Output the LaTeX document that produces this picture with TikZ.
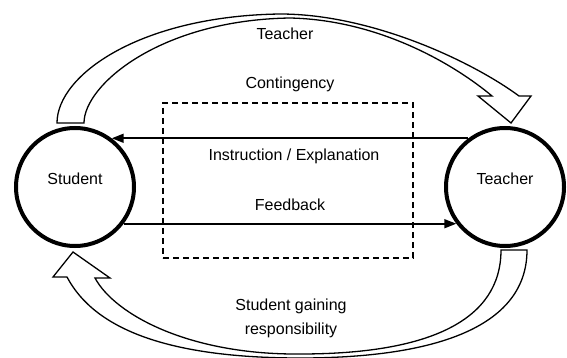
\documentclass[tikz,border=0pt]{standalone}
\usepackage{fontspec}
\setmainfont{Liberation Sans}
\usetikzlibrary{arrows.meta}

\begin{document}
\begin{tikzpicture}[
    x=1pt, y=-1pt,
    every node/.style={font=\fontsize{16}{24}\selectfont},
    party/.style={circle, draw, line width=4pt, fill=white,
        minimum size=118pt, inner sep=0pt, text depth=16pt},
    frame/.style={draw, line width=1.3pt, dash pattern=on 6pt off 4pt},
    link/.style={line width=1.6pt, -{Triangle[length=12pt,width=9pt]}},
    bigarrow/.style={draw, fill=white, line width=1.3pt}
]
\useasboundingbox (0,0) rectangle (567,358);

% =========================
% HOLLOW ARROWS
% =========================
% teacher contingency (over the top)
\draw[bigarrow]
    (57,123) .. controls (57,75) and (140,16) .. (280,14)
             .. controls (370,14) and (470,60) .. (519,96)
    -- (531,96) -- (511,123) -- (478,96) -- (492,96)
             .. controls (455,65) and (380,20) .. (290,18)
             .. controls (160,20) and (84,85) .. (84,123)
    -- cycle;

% student gaining responsibility (under the bottom)
\draw[bigarrow]
    (527,250) .. controls (527,325) and (440,358) .. (300,358)
              .. controls (170,358) and (95,330) .. (67,277)
    -- (53,277) -- (73,252) -- (110,278) -- (95,278)
              .. controls (115,315) and (190,355) .. (300,354)
              .. controls (430,354) and (501,320) .. (501,250)
    -- cycle;

% =========================
% PARTIES
% =========================
\node[party] (student) at (75,187) {Student};
\node[party] (teacher) at (505,187) {Teacher};

% dashed box
\node[frame, minimum width=250pt, minimum height=155pt] (box) at (288,180.5) {};

% =========================
% LINKS
% =========================
\draw[link] (teacher.127) -- (student.53);
\draw[link] (student.-37) -- (teacher.-143);

% labels
\node (contlabel) at (285,34) {Teacher};
\node (contingency) at (290,84) {Contingency};
\node (instruction) at (294,156) {Instruction / Explanation};
\node (feedback) at (290,205) {Feedback};
\node[align=center] (gaining) at (291,318) {Student gaining\\responsibility};
\end{tikzpicture}
\end{document}
